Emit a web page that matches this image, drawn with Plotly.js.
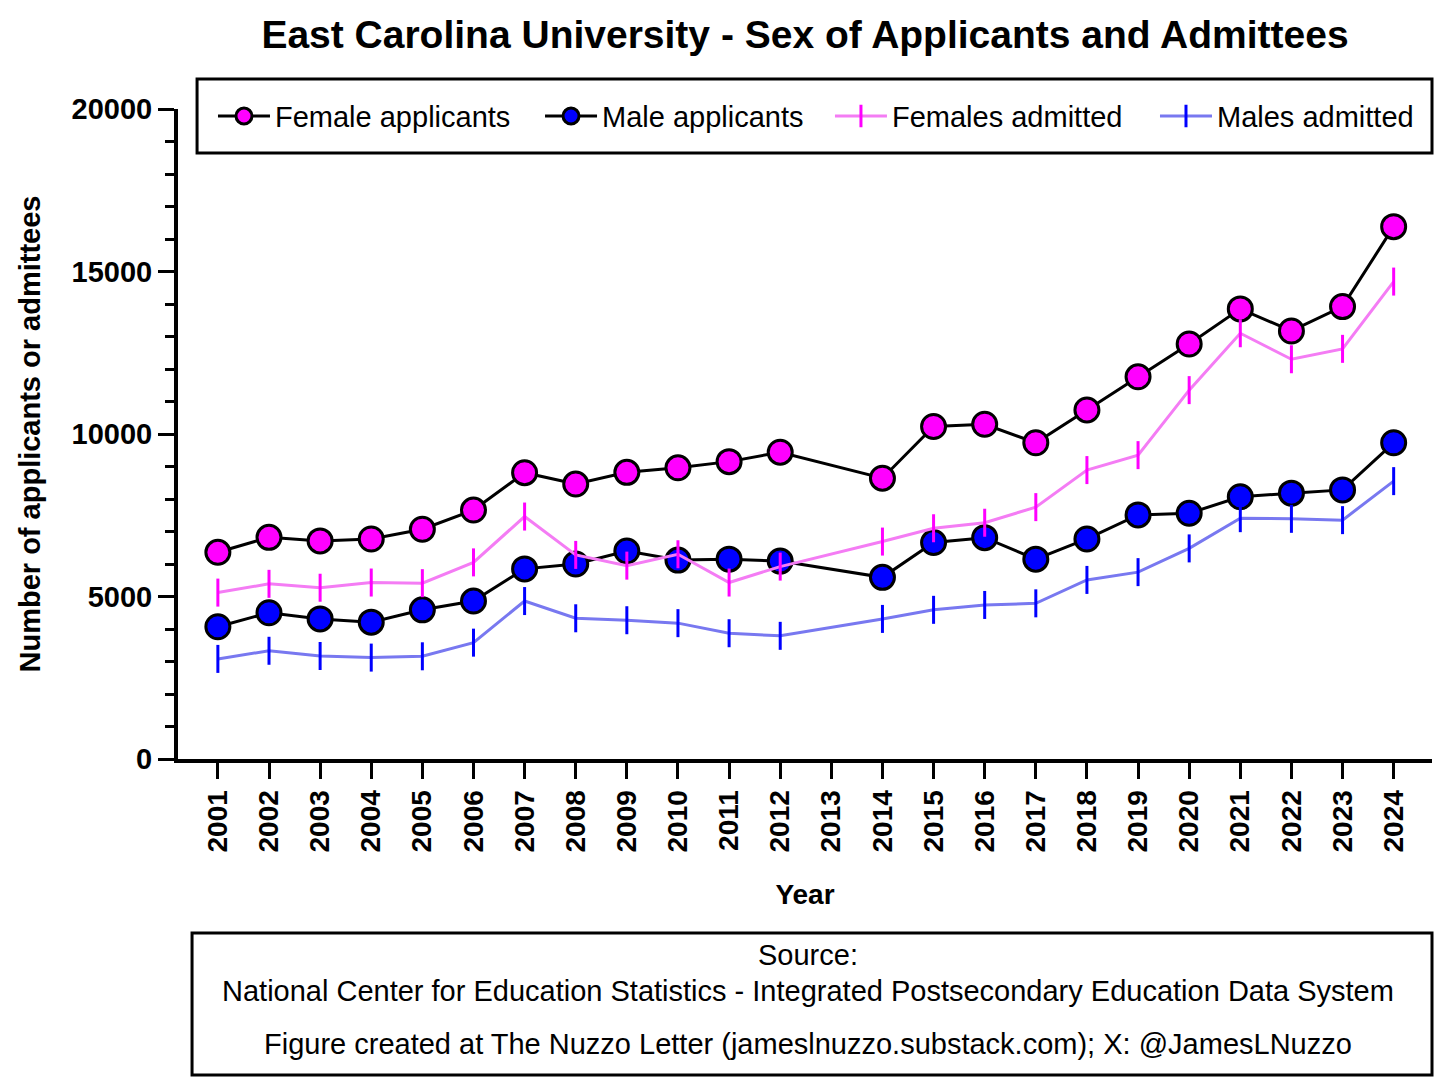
<!DOCTYPE html>
<html>
<head>
<meta charset="utf-8">
<script src="https://cdn.plot.ly/plotly-3.0.1.min.js"></script>
<style>
  html, body { margin: 0; padding: 0; background: #fff; }
  #chart { width: 1456px; height: 1080px; }
</style>
</head>
<body>
<div id="chart"></div>
<script>
// Years on the x axis (2013 has no data, lines bridge the gap)
const years = ['2001', '2002', '2003', '2004', '2005', '2006', '2007', '2008', '2009', '2010', '2011', '2012',
    '2013', '2014', '2015', '2016', '2017', '2018', '2019', '2020', '2021', '2022', '2023', '2024'];

const femaleApplicants = [6360, 6820, 6710, 6770, 7070, 7660, 8810, 8460, 8820, 8960, 9150, 9440,
    null, 8640, 10230, 10300, 9730, 10740, 11760, 12770, 13850, 13170, 13920, 16380];
const maleApplicants = [4070, 4500, 4310, 4210, 4590, 4860, 5850, 6000, 6400, 6120, 6150, 6090,
    null, 5590, 6660, 6810, 6150, 6770, 7510, 7560, 8070, 8180, 8280, 9730];
const femalesAdmitted = [5120, 5390, 5270, 5430, 5410, 6050, 7460, 6280, 5950, 6300, 5430, 5920,
    null, 6690, 7100, 7270, 7750, 8890, 9350, 11350, 13100, 12300, 12620, 14690];
const malesAdmitted = [3080, 3330, 3170, 3120, 3160, 3580, 4860, 4330, 4270, 4180, 3870, 3790,
    null, 4310, 4590, 4740, 4790, 5510, 5750, 6480, 7410, 7390, 7350, 8550];

const FONT = 'Liberation Sans, Arial, Helvetica, sans-serif';

function applicantTrace(name, y, fill, legendId) {
    return {
        x: years,
        y: y,
        name: name,
        legend: legendId,
        type: 'scatter',
        mode: 'lines+markers',
        connectgaps: true,
        line: { color: '#000', width: 3 },
        marker: { symbol: 'circle', size: 24, color: fill, line: { color: '#000', width: 3 } }
    };
}

function admittedTrace(name, y, lineColor, tickColor, legendId) {
    return {
        x: years,
        y: y,
        name: name,
        legend: legendId,
        type: 'scatter',
        mode: 'lines+markers',
        connectgaps: true,
        line: { color: lineColor, width: 3 },
        marker: { symbol: 'line-ns', size: 20, color: tickColor, line: { color: tickColor, width: 3 } }
    };
}

const data = [
    applicantTrace('Female applicants', femaleApplicants, '#ff00ff', 'legend'),
    applicantTrace('Male applicants', maleApplicants, '#0000ff', 'legend2'),
    admittedTrace('Females admitted', femalesAdmitted, '#f47cf4', '#ff00ff', 'legend3'),
    admittedTrace('Males admitted', malesAdmitted, '#7878f0', '#0000ff', 'legend4')
];

// one legend per entry so each can sit where the reference puts it
function legendAt(x) {
    return {
        orientation: 'h',
        x: x, xanchor: 'left',
        y: 0.989, yanchor: 'middle',
        font: { family: FONT, size: 29, color: '#000' },
        bgcolor: 'rgba(0,0,0,0)',
        borderwidth: 0,
        itemwidth: 52
    };
}

const layout = {
    width: 1456,
    height: 1080,
    paper_bgcolor: '#fff',
    plot_bgcolor: '#fff',
    font: { family: FONT, color: '#000' },
    margin: { l: 178, r: 24, t: 109, b: 321 },
    title: {
        text: 'East Carolina University - Sex of Applicants and Admittees',
        font: { family: FONT, size: 39, weight: 'bold', color: '#000' },
        xref: 'paper', x: 0.5, xanchor: 'center',
        yref: 'container', y: 0.968, yanchor: 'middle'
    },
    showlegend: true,
    legend: legendAt(0.0279),
    legend2: legendAt(0.2887),
    legend3: legendAt(0.5199),
    legend4: legendAt(0.7791),
    xaxis: {
        type: 'category',
        range: [-0.78, 23.75],
        showline: true,
        linecolor: '#000',
        linewidth: 4,
        showgrid: false,
        zeroline: false,
        ticks: 'outside',
        ticklen: 16,
        tickwidth: 3,
        tickcolor: '#000',
        tickangle: -90,
        tickfont: { family: FONT, size: 28, weight: 'bold', color: '#000' },
        title: {
            text: 'Year',
            font: { family: FONT, size: 28, weight: 'bold', color: '#000' },
            standoff: 34
        }
    },
    yaxis: {
        range: [0, 20000],
        showline: true,
        linecolor: '#000',
        linewidth: 4,
        showgrid: false,
        zeroline: false,
        tickmode: 'array',
        tickvals: [0, 5000, 10000, 15000, 20000],
        tickformat: 'd',
        ticks: 'outside',
        ticklen: 16,
        tickwidth: 3,
        tickcolor: '#000',
        tickfont: { family: FONT, size: 29, weight: 'bold', color: '#000' },
        minor: { dtick: 1000, ticks: 'outside', ticklen: 9, tickwidth: 3, tickcolor: '#000', showgrid: false },
        title: {
            text: 'Number of applicants or admittees',
            font: { family: FONT, size: 29, weight: 'bold', color: '#000' },
            standoff: 23
        }
    },
    shapes: [
        // legend frame
        { type: 'rect', xref: 'paper', yref: 'paper', x0: 0.0152, x1: 1.0, y0: 0.9323, y1: 1.0462,
          line: { color: '#000', width: 3 }, fillcolor: 'rgba(0,0,0,0)', layer: 'above' },
        // source frame
        { type: 'rect', xref: 'paper', yref: 'paper', x0: 0.0112, x1: 1.0, y0: -0.486, y1: -0.2677,
          line: { color: '#000', width: 3 }, fillcolor: 'rgba(0,0,0,0)', layer: 'above' }
    ],
    annotations: [
        { text: 'Source:', xref: 'paper', yref: 'paper', x: 0.502, y: -0.3015, yanchor: 'middle',
          showarrow: false, font: { family: FONT, size: 29, color: '#000' } },
        { text: 'National Center for Education Statistics - Integrated Postsecondary Education Data System',
          xref: 'paper', yref: 'paper', x: 0.502, y: -0.357, yanchor: 'middle', showarrow: false,
          font: { family: FONT, size: 29, color: '#000' } },
        { text: 'Figure created at The Nuzzo Letter (jameslnuzzo.substack.com); X: @JamesLNuzzo',
          xref: 'paper', yref: 'paper', x: 0.502, y: -0.4385, yanchor: 'middle', showarrow: false,
          font: { family: FONT, size: 29, color: '#000' } }
    ]
};

Plotly.newPlot('chart', data, layout, { displayModeBar: false, staticPlot: true });
</script>
</body>
</html>
